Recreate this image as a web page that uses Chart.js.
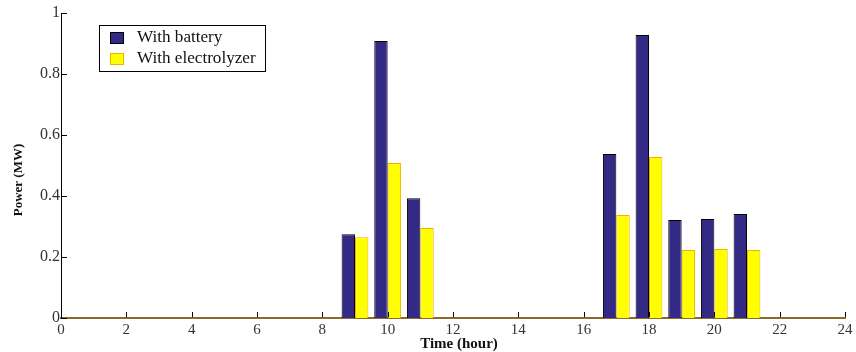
<!DOCTYPE html>
<html>
<head>
<meta charset="utf-8">
<script src="https://cdn.jsdelivr.net/npm/chart.js@4/dist/chart.umd.min.js"></script>
<style>
    html, body { margin: 0; padding: 0; background: #fff; }
    #wrap { width: 856px; height: 352px; position: relative; }
</style>
</head>
<body>
<div id="wrap"><canvas id="powerChart"></canvas></div>
<script>
// Hourly power
const hours = [1, 2, 3, 4, 5, 6, 7, 8, 9, 10, 11, 12, 13, 14, 15, 16, 17, 18, 19, 20, 21, 22, 23, 24];
const withBattery = [0, 0, 0, 0, 0, 0, 0, 0, 0.275, 0.908, 0.393, 0, 0, 0, 0, 0, 0.538, 0.928, 0.321, 0.325, 0.341, 0, 0, 0];
const withElectrolyzer = [0, 0, 0, 0, 0, 0, 0, 0, 0.265, 0.508, 0.295, 0, 0, 0, 0, 0, 0.338, 0.528, 0.223, 0.226, 0.223, 0, 0, 0];
const xTicks = [0, 2, 4, 6, 8, 10, 12, 14, 16, 18, 20, 22, 24];
const yTicks = [0, 0.2, 0.4, 0.6, 0.8, 1];

const SERIF = '"Liberation Serif", "DejaVu Serif", serif';

// inward tick marks, axis titles and boxed legend (MATLAB look)
const matlabLook = {
    id: 'matlabLook',
    afterDraw(chart) {
        const { ctx, chartArea: a, scales: { x, y } } = chart;
        ctx.save();
        ctx.strokeStyle = '#000';
        ctx.lineWidth = 1;
        ctx.beginPath();
        xTicks.forEach(t => {
            const px = Math.round(x.getPixelForValue(t)) + 0.5;
            ctx.moveTo(px, a.bottom - 1);
            ctx.lineTo(px, a.bottom - 6);
        });
        yTicks.forEach(t => {
            const py = Math.round(y.getPixelForValue(t)) + 0.5;
            ctx.moveTo(a.left, py);
            ctx.lineTo(a.left + 6, py);
        });
        ctx.stroke();

        // axis titles
        ctx.fillStyle = '#111';
        ctx.font = 'bold 15px ' + SERIF;
        ctx.textAlign = 'center';
        ctx.textBaseline = 'middle';
        ctx.fillText('Time (hour)', 459, 344);
        ctx.save();
        ctx.translate(19, 180);
        ctx.rotate(-Math.PI / 2);
        ctx.font = 'bold 13px ' + SERIF;
        ctx.fillText('Power (MW)', 0, 0);
        ctx.restore();

        // legend box
        const lx = 99.5, ly = 25.5, lw = 166, lh = 46;
        ctx.fillStyle = '#fff';
        ctx.fillRect(lx, ly, lw, lh);
        ctx.strokeStyle = '#000';
        ctx.strokeRect(lx, ly, lw, lh);
        ctx.textAlign = 'left';
        chart.data.datasets.forEach((ds, i) => {
            const sy = 32 + i * 21;
            ctx.fillStyle = ds.backgroundColor;
            ctx.fillRect(110, sy, 14, 12);
            ctx.strokeStyle = ds.borderColor;
            ctx.strokeRect(110.5, sy + 0.5, 13, 11);
            ctx.save();
            ctx.translate(137, sy + 6);
            ctx.scale(1.07, 1);
            ctx.font = '16px ' + SERIF;
            ctx.fillStyle = '#111';
            ctx.fillText(ds.label, 0, 0);
            ctx.restore();
        });
        ctx.restore();
    }
};

new Chart(document.getElementById('powerChart'), {
    type: 'bar',
    data: {
        datasets: [
            {
                label: 'With battery',
                data: hours.map((h, i) => ({ x: h, y: withBattery[i] })),
                backgroundColor: '#332a85',
                borderColor: '#000000',
                borderWidth: 1,
                categoryPercentage: 0.82,
                barPercentage: 1
            },
            {
                label: 'With electrolyzer',
                data: hours.map((h, i) => ({ x: h, y: withElectrolyzer[i] })),
                backgroundColor: '#ffff00',
                borderColor: '#f2b100',
                borderWidth: 1,
                categoryPercentage: 0.82,
                barPercentage: 1
            }
        ]
    },
    options: {
        responsive: true, maintainAspectRatio: false,
        animation: false,
        layout: { padding: { top: 13, right: 11, left: 0, bottom: 0 } },
        plugins: { legend: { display: false }, tooltip: { enabled: false } },
        scales: {
            x: {
                type: 'linear', min: 0, max: 24, offset: false,
                afterFit: s => { s.height = 34; },
                afterBuildTicks: s => { s.ticks = xTicks.map(v => ({ value: v })); },
                grid: { display: false, drawTicks: false, offset: false },
                border: { display: true, color: '#8a6b2c', width: 2 },
                ticks: { color: '#333', padding: 3, font: { family: SERIF, size: 15 }, maxRotation: 0 }
            },
            y: {
                min: 0, max: 1,
                afterFit: s => { s.width = 61; },
                afterBuildTicks: s => { s.ticks = yTicks.map(v => ({ value: v })); },
                grid: { display: false, drawTicks: false },
                border: { display: true, color: '#000', width: 1 },
                ticks: { color: '#333', padding: 1, font: { family: SERIF, size: 16 }, callback: v => String(+v.toFixed(1)) }
            }
        }
    },
    plugins: [matlabLook]
});
</script>
</body>
</html>
